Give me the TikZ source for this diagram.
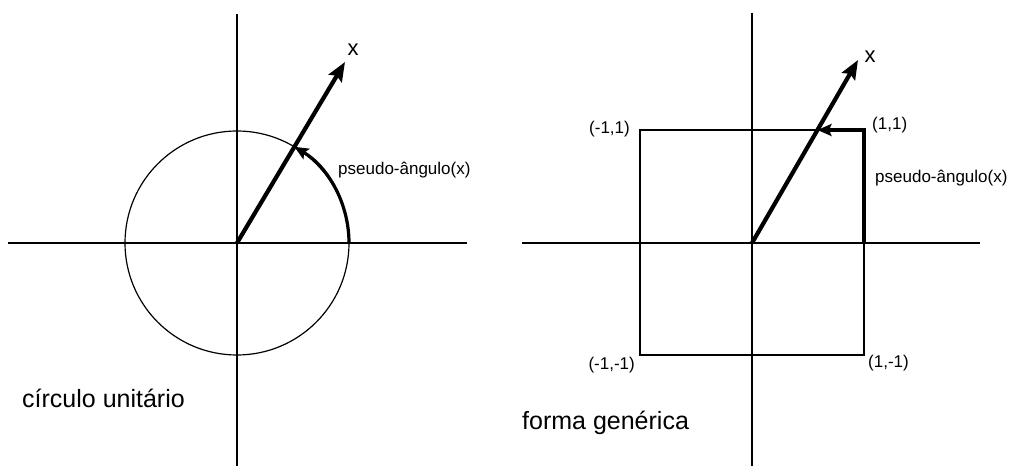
\documentclass[tikz,border=0pt]{standalone}
\usepackage{fontspec}
\setmainfont{Liberation Sans}
\usetikzlibrary{arrows.meta}
\begin{document}
\begin{tikzpicture}[x=1pt,y=1pt,
  axis/.style={line width=1.9pt},
  thin/.style={line width=1.2pt},
  vec/.style={line width=4.2pt,-{Stealth[length=19pt,width=15pt,inset=3pt]}},
  pang/.style={line width=3.2pt,-{Stealth[length=14pt,width=12pt,inset=2.5pt]}},
  lbl/.style={inner sep=0pt,font=\fontsize{17}{20}\selectfont},
  big/.style={inner sep=0pt,font=\fontsize{25}{30}\selectfont},
  xl/.style={inner sep=0pt,font=\fontsize{22}{25}\selectfont}]
\useasboundingbox (0,0) rectangle (1014,466);
% left diagram
\coordinate (Lo) at (237,223);
\coordinate (Ltop) at (237,452);
\coordinate (Lbot) at (237,0);
\coordinate (Lleft) at (8,223);
\coordinate (Lright) at (467,223);
\coordinate (Ltip) at (345,404);
\coordinate (Larc) at (349,223);
\draw[axis] (Ltop) -- (Lbot);
\draw[axis] (Lleft) -- (Lright);
\draw[thin] (Lo) circle[radius=112];
\draw[vec] (Lo) -- (Ltip);
\draw[pang] (Larc) arc[start angle=0,end angle=59.2,radius=112];
\node[xl] (Lx) at (353,416) {x};
\node[lbl,anchor=west] (Lp) at (338,296) {pseudo-ângulo(x)};
\node[big,anchor=base west] (Lt) at (22,59) {círculo unitário};
% right diagram
\coordinate (Ro) at (752,223);
\coordinate (Rtop) at (752,453);
\coordinate (Rbot) at (752,0);
\coordinate (Rleft) at (522,223);
\coordinate (Rright) at (980,223);
\coordinate (Rtip) at (858,406);
\coordinate (Q1) at (864,336);
\coordinate (Q2) at (640,336);
\coordinate (Q3) at (640,111);
\coordinate (Q4) at (864,111);
\coordinate (Rx0) at (864,223);
\coordinate (Rhit) at (817.5,336);
\draw[axis] (Rtop) -- (Rbot);
\draw[axis] (Rleft) -- (Rright);
\draw[thin] (Q1) -- (Q2) -- (Q3) -- (Q4) -- cycle;
\draw[vec] (Ro) -- (Rtip);
\draw[pang,line join=miter] (Rx0) -- (Q1) -- (Rhit);
\node[xl] (Rx) at (870,409) {x};
\node[lbl,anchor=west] (L11) at (872,341) {(1,1)};
\node[lbl,anchor=east] (Lm11) at (630,337) {(-1,1)};
\node[lbl,anchor=east] (Lmm) at (635,101) {(-1,-1)};
\node[lbl,anchor=west] (L1m) at (868,103) {(1,-1)};
\node[lbl,anchor=west] (Rp) at (875,288) {pseudo-ângulo(x)};
\node[big,anchor=base west] (Rt) at (522,37) {forma genérica};
\end{tikzpicture}
\end{document}
